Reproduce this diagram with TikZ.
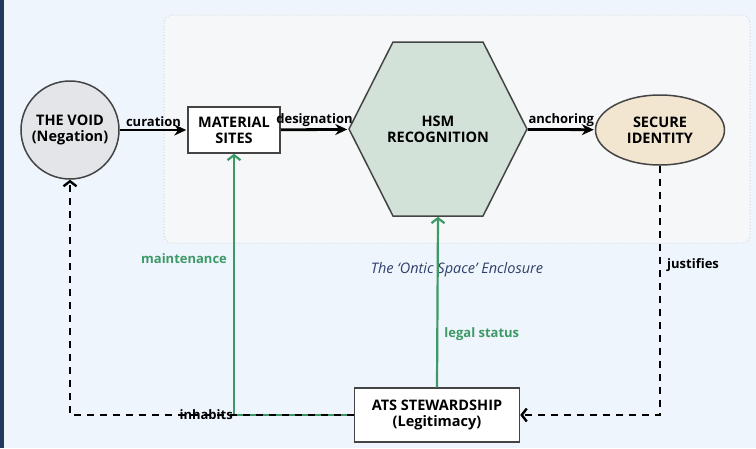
\documentclass[tikz,border=0pt]{standalone}
\usepackage{fontspec}
\setmainfont{Open Sans}
\usetikzlibrary{positioning,arrows.meta,shapes.geometric}

\definecolor{bgblue}{HTML}{EEF5FD}
\definecolor{navy}{HTML}{22385F}
\definecolor{encfill}{HTML}{F5F7F8}
\definecolor{encdraw}{HTML}{D3D9DF}
\definecolor{voidfill}{HTML}{E3E5E8}
\definecolor{hexfill}{HTML}{D3E2D8}
\definecolor{idfill}{HTML}{F2E6D0}
\definecolor{stewgreen}{HTML}{3D9A66}
\definecolor{enctext}{HTML}{2F3F6B}
\definecolor{edge}{HTML}{444444}

\begin{document}
\begin{tikzpicture}[
    x=1pt, y=-1pt,
    >=Stealth,
    base/.style={draw=edge, line width=1.5pt, align=center,
      font=\bfseries\fontsize{14.5}{16}\selectfont, inner sep=2pt},
    voidnode/.style={base, circle, fill=voidfill, minimum size=98pt},
    sitebox/.style={base, rectangle, fill=white, minimum width=92pt, minimum height=46pt},
    hexline/.style={draw=edge, line width=1.5pt, fill=hexfill, line join=miter},
    hexbox/.style={base, draw=none, rectangle, minimum width=178pt, minimum height=174pt},
    idnode/.style={base, ellipse, fill=idfill, minimum width=129pt, minimum height=70pt},
    stewbox/.style={base, rectangle, fill=white, minimum width=165pt, minimum height=54pt},
    flow/.style={line width=2.8pt, shorten >=1pt, -{Stealth[length=12pt,width=11pt]}},
    back arrow/.style={dashed, dash pattern=on 7pt off 6pt, line width=2.4pt,
      -{Straight Barb[length=5pt,width=13pt]}},
    maint arrow/.style={stewgreen, line width=2.2pt,
      -{Straight Barb[length=5pt,width=13pt]}},
    edgelabel/.style={font=\bfseries\fontsize{13}{15}\selectfont, inner sep=2pt},
    greenlabel/.style={edgelabel, text=stewgreen}
  ]

  % page and enclosure
  \fill[bgblue] (0,0) rectangle (756,448);
  \fill[navy] (0,0) rectangle (4,448);
  \draw[encdraw, fill=encfill, dotted, line width=1pt, rounded corners=8pt]
    (164,15) rectangle (750,243);

  % main chain
  \node[voidnode] (void) at (70,130) {THE VOID\\(Negation)};
  \node[sitebox] (sites) at (234,130) {MATERIAL\\SITES};
  \coordinate (hsmc) at (438,129);
  \draw[hexline] (hsmc) ++(-89,0) -- ++(44,-87) -- ++(90,0) -- ++(44,87)
    -- ++(-44,87) -- ++(-90,0) -- cycle;
  \node[hexbox] (hsm) at (hsmc) {HSM\\RECOGNITION};
  \node[idnode] (identity) at (660,130) {SECURE\\IDENTITY};
  \node[stewbox] (ats) at (437,415) {ATS STEWARDSHIP\\(Legitimacy)};
  \node[font=\itshape\fontsize{14.5}{16}\selectfont, text=enctext] (enclabel)
    at (457,270) {The ‘Ontic Space’ Enclosure};

  \draw[flow] (void) -- node[edgelabel, above] {curation} (sites);
  \draw[flow] (sites) -- node[edgelabel, above] {designation} (hsm);
  \draw[flow] (hsm) -- node[edgelabel, above] {anchoring} (identity);

  % stewardship links
  \draw[maint arrow] (ats.west) -| node[greenlabel, pos=0.8, left=4pt] {maintenance} (sites.south);
  \draw[maint arrow] (ats.north) -- node[greenlabel, pos=0.31, right=4pt] {legal status} (hsm.south);

  % feedback
  \draw[back arrow] (identity.south) |- node[edgelabel, pos=0.2, right=4pt] {justifies} (ats.east);
  \draw[back arrow] (ats.west) -| node[edgelabel, pos=0.26] {inhabits} (void.south);

\end{tikzpicture}
\end{document}
